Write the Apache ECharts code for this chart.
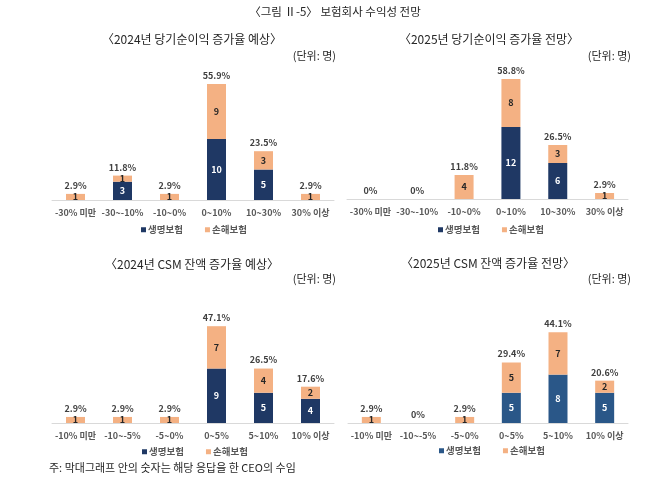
<!DOCTYPE html>
<html>
<head>
<meta charset="utf-8">
<script src="https://cdn.jsdelivr.net/npm/echarts@6/dist/echarts.min.js"></script>
<style>
html,body{margin:0;padding:0;background:#fff;}
#c{width:670px;height:486px;}
</style>
</head>
<body>
<div id="c"></div>
<script>
const FONT = '"Noto Sans CJK KR", "Noto Sans", sans-serif';

const mainTitle = '〈그림 Ⅱ-5〉 보험회사 수익성 전망';
const footnote = '주: 막대그래프 안의 숫자는 해당 응답을 한 CEO의 수임';
const unitText = '(단위: 명)';
const seriesNames = ['생명보험', '손해보험'];

const catNI = ['-30% 미만', '-30~-10%', '-10~0%', '0~10%', '10~30%', '30% 이상'];
const catCSM = ['-10% 미만', '-10~-5%', '-5~0%', '0~5%', '5~10%', '10% 이상'];

const title2024NI = '〈2024년 당기순이익 증가율 예상〉';
const life2024NI = [0, 3, 0, 10, 5, 0];
const nonlife2024NI = [1, 1, 1, 9, 3, 1];
const pct2024NI = ['2.9%', '11.8%', '2.9%', '55.9%', '23.5%', '2.9%'];

const title2025NI = '〈2025년 당기순이익 증가율 전망〉';
const life2025NI = [0, 0, 0, 12, 6, 0];
const nonlife2025NI = [0, 0, 4, 8, 3, 1];
const pct2025NI = ['0%', '0%', '11.8%', '58.8%', '26.5%', '2.9%'];

const title2024CSM = '〈2024년 CSM 잔액 증가율 예상〉';
const life2024CSM = [0, 0, 0, 9, 5, 4];
const nonlife2024CSM = [1, 1, 1, 7, 4, 2];
const pct2024CSM = ['2.9%', '2.9%', '2.9%', '47.1%', '26.5%', '17.6%'];

const title2025CSM = '〈2025년 CSM 잔액 증가율 전망〉';
const life2025CSM = [0, 0, 0, 5, 8, 5];
const nonlife2025CSM = [1, 0, 1, 5, 7, 2];
const pct2025CSM = ['2.9%', '0%', '2.9%', '29.4%', '44.1%', '20.6%'];

const panels = [
  {title: title2024NI, cats: catNI, life: life2024NI, nonlife: nonlife2024NI, pct: pct2024NI,
   grid: {left: 52, top: 78, width: 282, height: 122}, lifeColor: '#1f3864',
   titleX: 192, titleY: 33, unitRight: 336, unitY: 50, legendLeft: 141, legendTop: 225},
  {title: title2025NI, cats: catNI, life: life2025NI, nonlife: nonlife2025NI, pct: pct2025NI,
   grid: {left: 347, top: 79, width: 281, height: 120}, lifeColor: '#1f3864',
   titleX: 489, titleY: 33, unitRight: 631, unitY: 50, legendLeft: 438, legendTop: 225},
  {title: title2024CSM, cats: catCSM, life: life2024CSM, nonlife: nonlife2024CSM, pct: pct2024CSM,
   grid: {left: 52, top: 302, width: 282, height: 121}, lifeColor: '#1f3864',
   titleX: 192, titleY: 258, unitRight: 336, unitY: 273, legendLeft: 142, legendTop: 447},
  {title: title2025CSM, cats: catCSM, life: life2025CSM, nonlife: nonlife2025CSM, pct: pct2025CSM,
   grid: {left: 348, top: 302, width: 280, height: 121}, lifeColor: '#2a5788',
   titleX: 488, titleY: 257, unitRight: 631, unitY: 273, legendLeft: 439, legendTop: 446}
];

const nonlifeColor = '#f4b183';

const option = {
  animation: false,
  backgroundColor: '#fff',
  textStyle: {fontFamily: FONT},
  legend: [],
  grid: [],
  xAxis: [],
  yAxis: [],
  series: [],
  graphic: []
};

option.graphic.push({
  type: 'text', left: 'center', top: 6,
  style: {text: mainTitle, font: '11.5px ' + FONT, fill: '#262626'}
});
option.graphic.push({
  type: 'text', left: 49, top: 462,
  style: {text: footnote, font: '11px ' + FONT, fill: '#262626'}
});

panels.forEach((p, i) => {
  option.graphic.push({
    type: 'text', x: p.titleX, y: p.titleY,
    style: {text: p.title, font: '12px ' + FONT, fill: '#262626', textAlign: 'center'}
  });
  option.graphic.push({
    type: 'text', x: p.unitRight, y: p.unitY,
    style: {text: unitText, font: '11px ' + FONT, fill: '#262626', textAlign: 'right'}
  });
  option.grid.push(Object.assign({containLabel: false}, p.grid));
  option.xAxis.push({
    type: 'category', gridIndex: i, data: p.cats,
    axisLine: {lineStyle: {color: '#d9d9d9', width: 1}},
    axisTick: {show: false},
    axisLabel: {interval: 0, margin: 8, fontSize: 9, fontWeight: 'bold', color: '#595959', fontFamily: FONT}
  });
  option.yAxis.push({
    type: 'value', gridIndex: i, min: 0, max: 20,
    show: false, splitLine: {show: false}
  });
  option.legend.push({
    left: p.legendLeft, top: p.legendTop, padding: 0,
    icon: 'rect', itemWidth: 5, itemHeight: 5, itemGap: 22,
    textStyle: {fontSize: 9.5, fontWeight: 'bold', color: '#595959', fontFamily: FONT, padding: [0, 0, 0, -3]},
    data: [{name: seriesNames[0], itemStyle: {color: p.lifeColor}},
           {name: seriesNames[1], itemStyle: {color: nonlifeColor}}],
    selectedMode: false
  });
  const stackId = 's' + i;
  option.series.push({
    name: seriesNames[0], type: 'bar', stack: stackId, xAxisIndex: i, yAxisIndex: i,
    data: p.life, barWidth: 19, itemStyle: {color: p.lifeColor},
    label: {show: true, position: 'inside', color: '#ffffff', fontSize: 9, fontWeight: 'bold',
      formatter: d => d.value > 0 ? d.value : ''}
  });
  option.series.push({
    name: seriesNames[1], type: 'bar', stack: stackId, xAxisIndex: i, yAxisIndex: i,
    data: p.nonlife, barWidth: 19, itemStyle: {color: nonlifeColor},
    label: {show: true, position: 'inside', color: '#262626', fontSize: 9, fontWeight: 'bold',
      formatter: d => d.value > 0 ? d.value : ''}
  });
  const totals = p.life.map((v, k) => v + p.nonlife[k]);
  option.series.push({
    name: 'total' + i, type: 'bar', xAxisIndex: i, yAxisIndex: i,
    data: totals, barWidth: 19, barGap: '-100%', silent: true, z: 1,
    itemStyle: {color: 'rgba(0,0,0,0)'},
    label: {show: true, position: 'top', distance: 4, color: '#404040', fontSize: 9, fontWeight: 'bold',
      formatter: d => p.pct[d.dataIndex]}
  });
});

const chart = echarts.init(document.getElementById('c'), null, {renderer: 'canvas'});
chart.setOption(option);
</script>
</body>
</html>
